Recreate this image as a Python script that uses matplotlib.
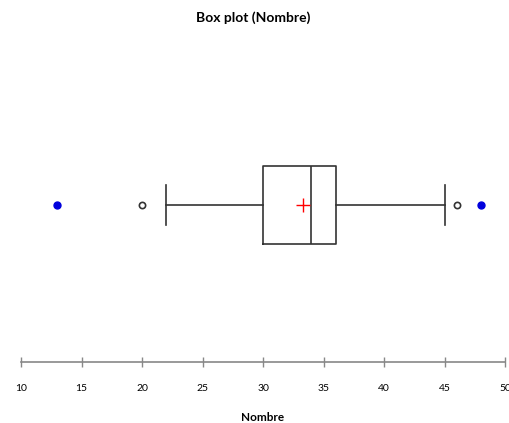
import matplotlib
matplotlib.use("Agg")
import matplotlib.pyplot as plt

# Box plot statistics
label = "Nombre"
q1, median, q3 = 30, 34, 36
mean = 33.3
whisker_low, whisker_high = 22, 45
outliers = [20, 46]
extremes = [13, 48]
x_ticks = [10, 15, 20, 25, 30, 35, 40, 45, 50]

plt.rcParams["font.family"] = ["Lato", "DejaVu Sans"]

fig = plt.figure(figsize=(5.09, 4.23), dpi=100)
ax = fig.add_axes([21 / 509, 61 / 423, 484 / 509, 314 / 423])

stats = [{
    "med": median, "q1": q1, "q3": q3,
    "whislo": whisker_low, "whishi": whisker_high,
    "mean": mean, "fliers": outliers, "label": label,
}]
ax.bxp(stats, positions=[1], widths=0.5, vert=False, showmeans=True,
       showcaps=True, showfliers=True,
       boxprops=dict(color="#333333", linewidth=1.2),
       medianprops=dict(color="#333333", linewidth=1.2),
       whiskerprops=dict(color="#333333", linewidth=1.2),
       capprops=dict(color="#333333", linewidth=1.2),
       flierprops=dict(marker="o", markerfacecolor="white", markeredgecolor="#333333",
                       markersize=4.5, markeredgewidth=1.2),
       meanprops=dict(marker="+", markeredgecolor="red", markersize=10, markeredgewidth=1))

# minimum / maximum points
ax.plot(extremes, [1] * len(extremes), "o", color="#0000dd", markersize=5)

ax.set_xlim(10, 50)
ax.set_ylim(0, 2)
ax.set_xticks(x_ticks)
ax.set_yticks([])
for s in ["top", "right", "left"]:
    ax.spines[s].set_visible(False)
ax.spines["bottom"].set_color("#888888")
ax.spines["bottom"].set_linewidth(1.2)
ax.tick_params(axis="x", direction="inout", length=7, width=1, color="#888888",
               labelsize=7.5, pad=12)

ax.set_title("Box plot (Nombre)", fontsize=10, fontweight="bold", pad=19, x=0.48)
ax.set_xlabel("Nombre", fontsize=8.5, fontweight="bold", labelpad=14)

fig.savefig("out.png", dpi=100)
